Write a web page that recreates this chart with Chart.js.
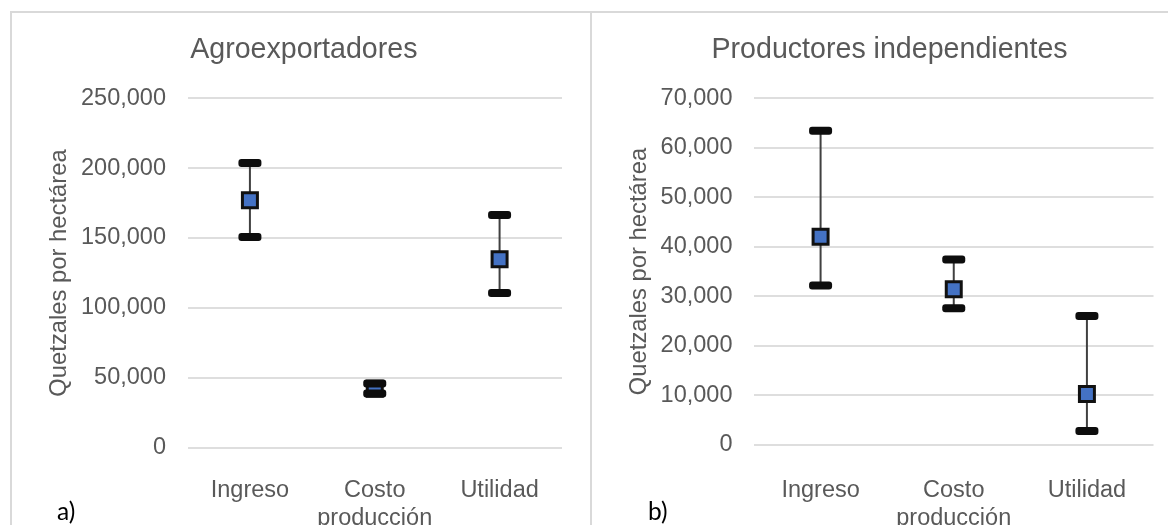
<!DOCTYPE html>
<html>
<head>
<meta charset="utf-8">
<script src="https://cdn.jsdelivr.net/npm/chart.js@4.4.1/dist/chart.umd.min.js"></script>
<style>
  html, body { margin: 0; padding: 0; background: #ffffff; width: 1168px; height: 525px; overflow: hidden; position: relative; }
  .line { position: absolute; background: #d9d9d9; }
  .cv { position: absolute; }
  .tag { position: absolute; font-family: Lato, "Open Sans", sans-serif; font-size: 24.5px; color: #000; line-height: 1; }
</style>
</head>
<body>
<div class="line" style="left:10px; top:11px; width:1158px; height:2px;"></div>
<div class="line" style="left:10px; top:11px; width:2px; height:514px;"></div>
<div class="line" style="left:590px; top:11px; width:2px; height:514px;"></div>
<div class="cv" style="left:12px; top:14px; width:578px; height:511px;"><canvas id="c1" width="578" height="511"></canvas></div>
<div class="cv" style="left:592px; top:14px; width:591px; height:511px;"><canvas id="c2" width="591" height="511"></canvas></div>
<div class="tag" style="left:57px; top:499px;">a)</div>
<div class="tag" style="left:648px; top:499px;">b)</div>
<script>
// ---- Data ----
const categories = ['Ingreso', ['Costo', 'producción'], 'Utilidad'];

const agroTitle = 'Agroexportadores';
const agroMean = [177000, 42300, 134900];
const agroLow  = [150700, 39000, 110800];
const agroHigh = [203600, 46000, 166500];
const agroTicks = { min: 0, max: 250000, step: 50000 };

const indepTitle = 'Productores independientes';
const indepMean = [42000, 31400, 10300];
const indepLow  = [32200, 27600, 2800];
const indepHigh = [63400, 37400, 26000];
const indepTicks = { min: 0, max: 70000, step: 10000 };

const yAxisTitle = 'Quetzales por hectárea';

// ---- Styles ----
const FONT = "'Liberation Sans', Arial, sans-serif";
const TEXT = '#595959';
const GRID = '#dedede';

function errorBarsPlugin(low, high) {
  return {
    id: 'errBars',
    beforeDatasetsDraw(chart) {
      const ctx = chart.ctx, x = chart.scales.x, y = chart.scales.y;
      ctx.save();
      ctx.strokeStyle = '#404040';
      ctx.lineWidth = 2;
      for (let i = 0; i < low.length; i++) {
        const px = x.getPixelForValue(i);
        ctx.beginPath();
        ctx.moveTo(px, y.getPixelForValue(low[i]));
        ctx.lineTo(px, y.getPixelForValue(high[i]));
        ctx.stroke();
      }
      ctx.restore();
    },
    afterDatasetsDraw(chart) {
      const ctx = chart.ctx, x = chart.scales.x, y = chart.scales.y;
      ctx.save();
      ctx.fillStyle = '#0d0d0d';
      const w = 23, h = 8;
      for (let i = 0; i < low.length; i++) {
        const px = x.getPixelForValue(i);
        [low[i], high[i]].forEach(v => {
          const py = y.getPixelForValue(v);
          ctx.beginPath();
          ctx.roundRect(px - w / 2, py - h / 2, w, h, 3);
          ctx.fill();
        });
      }
      ctx.restore();
    }
  };
}

function makeChart(id, title, mean, low, high, tk, yWidth, xHeight, rightPad, xPad) {
  return new Chart(document.getElementById(id), {
    type: 'line',
    data: {
      labels: categories,
      datasets: [{
        data: mean,
        showLine: false,
        pointStyle: 'rect',
        pointRadius: 10.6,
        pointBorderWidth: 3,
        pointBackgroundColor: '#4472C4',
        pointBorderColor: '#111111'
      }]
    },
    options: {
      responsive: false,
      animation: false,
      events: [],
      layout: { padding: { left: 33.6, right: rightPad, top: 0, bottom: 0 } },
      plugins: {
        legend: { display: false },
        tooltip: { enabled: false },
        title: {
          display: true,
          text: title,
          color: TEXT,
          font: { family: FONT, size: 28.6, weight: 'normal', lineHeight: 1.2 },
          padding: { top: 19, bottom: 30.7 }
        }
      },
      scales: {
        x: {
          type: 'category',
          offset: true,
          grid: { display: false },
          border: { display: false },
          ticks: { color: TEXT, font: { family: FONT, size: 23.5, lineHeight: 1.22 }, padding: xPad, maxRotation: 0, autoSkip: false },
          afterFit(s) { s.height = xHeight; }
        },
        y: {
          min: tk.min, max: tk.max,
          grid: { color: GRID, lineWidth: 2, drawTicks: false },
          border: { display: false },
          ticks: {
            stepSize: tk.step,
            color: TEXT,
            padding: 21.5,
            font: { family: FONT, size: 23.5 },
            callback: v => v.toLocaleString('en-US')
          },
          title: {
            display: true,
            text: yAxisTitle,
            color: TEXT,
            font: { family: FONT, size: 23.8, lineHeight: 1.2 },
            padding: { top: 0, bottom: 0 }
          },
          afterFit(s) { s.width = yWidth; }
        }
      }
    },
    plugins: [errorBarsPlugin(low, high)]
  });
}

makeChart('c1', agroTitle, agroMean, agroLow, agroHigh, agroTicks, 141.9, 77, 28, 20);
makeChart('c2', indepTitle, indepMean, indepLow, indepHigh, indepTicks, 128.4, 80, 29.5, 23);
</script>
</body>
</html>
